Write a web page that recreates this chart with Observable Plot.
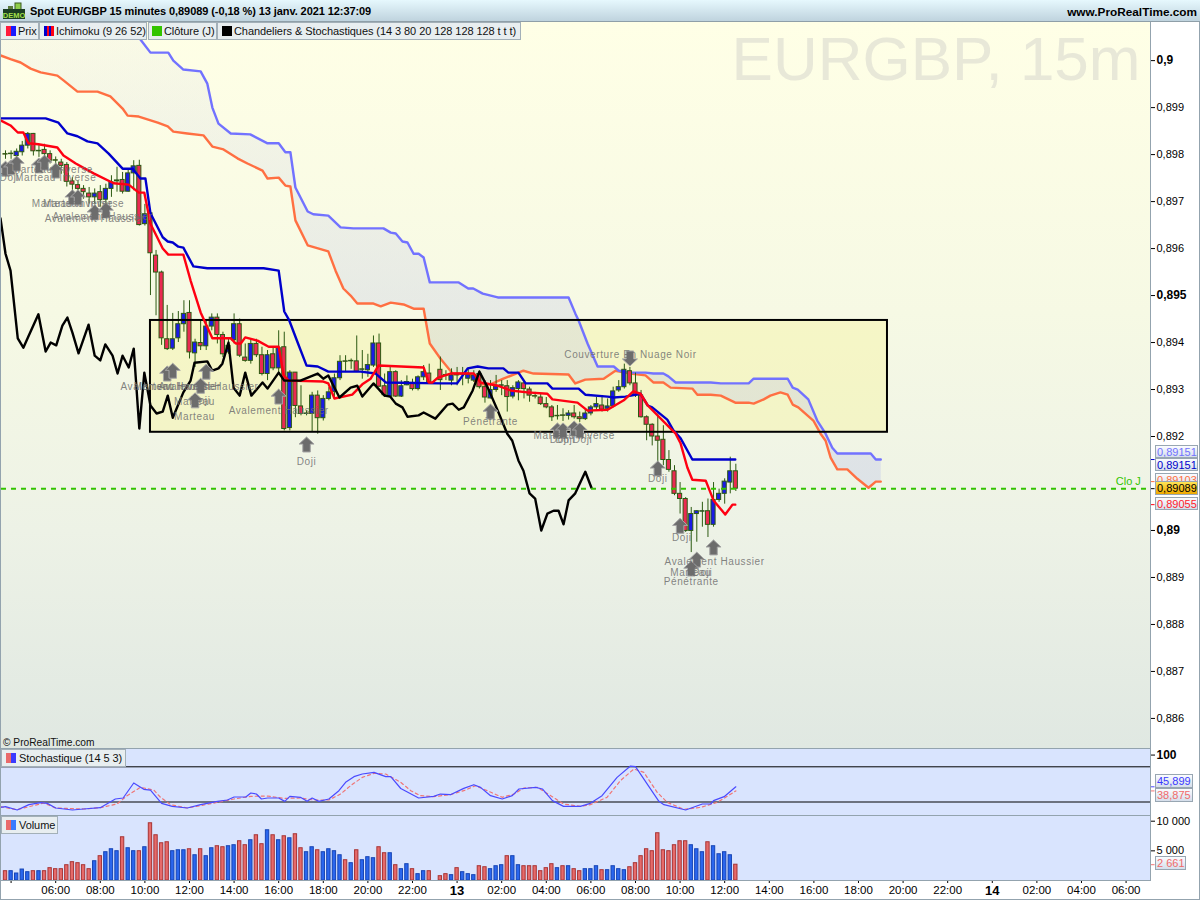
<!DOCTYPE html>
<html><head><meta charset="utf-8">
<script src="https://cdn.jsdelivr.net/npm/d3@7"></script>
<script src="https://cdn.jsdelivr.net/npm/@observablehq/plot@0.6"></script>
<style>
html,body{margin:0;padding:0;background:#fff}
#root{position:relative;width:1200px;height:900px;overflow:hidden;font-family:"Liberation Sans",Arial,sans-serif;color:#000;background:#fff}
#root>*{position:absolute}
svg{overflow:visible}
g[fill="#6e6e6e"]{letter-spacing:.6px}
.hd{left:0;top:0;width:1200px;height:21px;background:linear-gradient(#e6f8fd,#bfd3de);border-bottom:1px solid #8f9fa8;box-sizing:content-box}
.ht{font:bold 11px "Liberation Sans",Arial,sans-serif;line-height:14px;white-space:nowrap;letter-spacing:-.08px}
.leg{height:16px;background:#e8eef0;border:1px solid #a3b0b8;font-size:11px;line-height:16px;white-space:nowrap;color:#111;letter-spacing:-.07px}
.sw{position:absolute;top:3px;height:10px}
.tag{left:1155px;height:13px;width:43px;box-sizing:border-box;border:1px solid #98a6b2;background:linear-gradient(#fbfcff,#d5deeb);font-size:11px;line-height:12px;padding-left:1px;white-space:nowrap;overflow:hidden}
.edge{background:#93a3ae}
</style></head><body><div id="root"></div>
<script>
// candles, one per 15-minute slot (prices in 1/100000); slot 77 has no bar
const candleOpen=[89801,89801,89797,89805,89819,89844,89807,89810,89801,89788,89783,89778,89743,89735,89727,89717,89709,89720,89704,89727,89743,89746,89721,89760,89776,89652,89675,89585,89549,89407,89387,89409,89439,89463,89377,89399,89392,89434,89453,89416,89379,89405,89439,89368,89361,89397,89373,89333,89375,89345,89390,89218,89336,89264,89248,89248,89287,89239,89280,89295,89324,89360,89360,89360,89342,89341,89351,89398,89307,89285,89337,89285,89309,89314,89301,89326,89334,null,89342,89331,89319,89331,89332,89323,89319,89333,89305,89281,89299,89308,89307,89285,89301,89313,89300,89286,89283,89269,89262,89243,89245,89244,89249,89241,89237,89249,89262,89266,89259,89264,89298,89305,89339,89313,89287,89241,89225,89200,89193,89150,89126,89078,89067,88999,89035,89040,89041,89012,89065,89078,89102,89126];
const candleHigh=[89808,89808,89812,89828,89847,89845,89819,89822,89808,89795,89790,89783,89751,89744,89734,89730,89727,89734,89737,89755,89773,89762,89769,89787,89788,89694,89680,89596,89552,89479,89462,89466,89489,89489,89407,89446,89446,89461,89461,89422,89407,89461,89450,89397,89407,89407,89390,89383,89390,89425,89422,89340,89336,89308,89255,89294,89297,89287,89304,89333,89372,89372,89365,89414,89383,89375,89414,89418,89333,89351,89340,89319,89329,89322,89329,89351,89354,null,89369,89340,89344,89347,89347,89344,89340,89340,89319,89319,89330,89319,89319,89308,89319,89319,89305,89294,89291,89283,89266,89266,89259,89255,89266,89252,89259,89266,89283,89287,89280,89305,89319,89354,89347,89335,89298,89244,89227,89248,89223,89170,89138,89102,89070,89049,89042,89060,89067,89102,89088,89110,89156,89141];
const candleLow=[89790,89790,89787,89797,89812,89797,89794,89787,89780,89773,89758,89731,89723,89712,89705,89695,89695,89688,89695,89709,89720,89716,89720,89723,89648,89648,89500,89457,89394,89383,89383,89400,89422,89365,89347,89383,89383,89425,89397,89368,89375,89397,89368,89358,89354,89368,89329,89319,89340,89333,89212,89212,89240,89244,89244,89209,89205,89233,89276,89283,89319,89336,89343,89336,89322,89326,89347,89304,89283,89283,89283,89283,89308,89297,89297,89319,89311,null,89298,89319,89308,89308,89308,89312,89315,89301,89271,89280,89294,89287,89252,89280,89276,89280,89273,89280,89266,89259,89232,89235,89232,89235,89237,89230,89234,89244,89255,89252,89252,89261,89294,89301,89308,89283,89239,89191,89180,89138,89138,89124,89074,89035,88996,88953,88975,89007,88985,89007,89060,89056,89078,89083];
const candleClose=[89800,89802,89806,89819,89844,89807,89808,89801,89787,89787,89776,89742,89736,89727,89720,89709,89717,89703,89727,89741,89745,89721,89760,89775,89650,89673,89590,89549,89409,89386,89407,89439,89461,89379,89400,89392,89434,89453,89416,89375,89393,89439,89372,89361,89397,89373,89333,89373,89345,89388,89216,89336,89265,89248,89249,89287,89239,89280,89294,89324,89359,89359,89361,89338,89343,89352,89398,89306,89288,89337,89285,89307,89316,89301,89326,89337,89315,null,89320,89330,89330,89330,89333,89332,89330,89305,89283,89299,89306,89309,89284,89303,89315,89301,89287,89285,89269,89262,89241,89244,89244,89249,89241,89237,89249,89262,89269,89257,89264,89296,89305,89342,89313,89287,89241,89225,89200,89191,89150,89129,89078,89067,88999,89035,89041,89041,89012,89065,89078,89104,89126,89089];
const volumes=[1570,1570,1180,1850,1400,1570,1570,1570,2080,1910,1910,2580,3090,2920,2580,1910,3250,4100,4770,5270,4940,7290,5440,4940,4940,5610,9650,7630,6280,6450,4940,5100,5100,5270,4260,5270,4100,5440,5780,5610,5780,5950,6620,5950,6790,7630,6120,8470,7630,6790,7460,7120,7800,5440,4770,5610,5100,4770,5270,4940,4260,3420,2920,5100,3420,3930,3760,5610,4600,4600,2580,1910,2750,1910,1070,1570,1570,null,730,1070,900,2080,1400,1070,900,2410,2240,1910,2410,2580,4100,4100,2580,2410,2410,2410,1570,2080,2750,2080,2410,2410,1910,1570,1910,1910,2410,1740,1740,2410,1910,1740,2240,2920,4100,5270,4940,7970,5100,4940,5950,6620,6620,5950,5270,4770,6450,5780,4430,4770,4260,2661];

// Ichimoku lines: x is the 15-minute slot, y the price in 1/100000
const senkouASlot=[-0.9,0.9,2.7,4.5,6.3,9.3,10.4,12.9,16.5,18.8,21,21.9,23.9,27.3,29.1,30.1,32.6,35.5,37.1,39.1,41.6,43.4,46.1,47,49,50.2,51.1,52,54.2,57.9,59.2,60.6,61.9,63.1,66,67.3,69.1,71.4,73.2,75,76.1,78,80.2,83,84.8,87,89.3,92.9,94.7,101,102.2,104,107.3,109.4,112.1,114.8,116.2,118,119.3,123.2,124.1,126.5,128.3,130.9,133.3,134.2,136,137.2,139,140.3,141.2,142.2,144.9,146.2,147.1,148,149.2,151,152.8,154.8,156.1,157];
const senkouAPrice=[90011,90003,89996,89983,89975,89968,89958,89934,89934,89924,89898,89883,89881,89868,89860,89849,89845,89841,89817,89811,89792,89781,89766,89749,89751,89734,89732,89660,89607,89594,89553,89515,89500,89483,89483,89477,89485,89481,89472,89472,89398,89366,89334,89334,89311,89311,89323,89340,89334,89332,89313,89321,89323,89340,89334,89330,89315,89315,89304,89302,89289,89289,89287,89272,89272,89270,89279,89287,89294,89289,89268,89262,89234,89206,89191,89155,89130,89130,89110,89091,89104,89104];
const senkouBSlot=[-0.9,9.9,18.8,22.4,24.2,26,29.2,30.1,31.9,35,36.2,37.1,38.2,40.4,43.9,47,49,50.2,51.1,52,54.2,55.2,57.9,60.1,62.4,67.8,69.1,70,71.2,72.1,73.2,74.1,75,76.1,81.3,83,83.9,85.6,88.3,101,102.2,102.8,104.4,106.2,109.1,110,112.1,114.8,116.2,118,118.9,120.2,126.5,128.3,133.3,134.2,140.3,141.2,142.1,144,145.6,147.1,148.3,149.2,155.2,156.1,157];
const senkouBPrice=[90298,90213,90128,90075,90045,90017,90017,90000,89981,89977,89951,89900,89866,89845,89843,89824,89824,89805,89805,89730,89679,89673,89670,89645,89643,89643,89634,89632,89615,89613,89589,89589,89581,89528,89528,89515,89515,89504,89496,89496,89462,89447,89398,89349,89349,89340,89336,89336,89334,89334,89328,89315,89315,89313,89313,89323,89323,89304,89300,89279,89234,89206,89176,89164,89164,89151,89151];
const kijunSlot=[-0.9,7.2,9.5,11.1,12.9,14.7,16.5,18.5,21,22.8,24.2,25.1,26,28.2,29.1,30,31,31.9,33.7,36.2,46.3,49,50,50.9,52.4,54,56,57.9,63.7,66.4,68.2,78,81,82.9,84.7,86.6,89.3,90.2,92,93.3,97.2,98.1,102.8,104,108,109.1,111.2,113.9,115.2,116,118.7,119.8,121.1,123.2,130.9];
const kijunPrice=[89877,89877,89868,89845,89839,89828,89824,89802,89770,89770,89749,89749,89675,89624,89615,89613,89604,89602,89562,89558,89558,89553,89466,89447,89400,89351,89349,89338,89338,89334,89315,89313,89313,89345,89349,89345,89345,89336,89336,89313,89313,89302,89302,89289,89285,89283,89285,89291,89266,89262,89236,89213,89196,89151,89151];
const tenkanSlot=[-0.9,0.9,2.2,3.2,4.1,5.9,9.3,10.4,12.6,15.8,19.4,22.1,23.9,24.9,26,28.2,29.2,31.9,33.2,35,37.1,40.4,41.3,42.2,43,45.2,47.2,49,49.9,50.8,57,57.9,59,62.2,64,65.5,66.9,75,75.9,76.6,77.5,79.8,84,85.2,88.4,90.6,93.6,97.2,98.1,102.6,104.4,108,110.9,112.6,113.9,115.2,120.2,121.1,122.3,123.2,125.6,127,129.1,130.4,130.9];
const tenkanPrice=[89873,89862,89847,89847,89824,89822,89815,89798,89781,89760,89739,89736,89719,89719,89653,89600,89587,89587,89532,89464,89409,89409,89398,89398,89411,89404,89391,89391,89330,89319,89317,89313,89281,89289,89311,89323,89351,89347,89315,89315,89325,89334,89334,89315,89308,89298,89294,89291,89279,89272,89255,89257,89277,89296,89291,89266,89206,89185,89134,89108,89106,89064,89034,89055,89055];
const chikouSlot=[-0.9,0,0.9,2.2,3.2,4.1,5.9,7.2,8.1,9.1,10.2,11.1,12,13.1,14.9,16,17,17.9,19.2,20.1,21,22.1,23,24,24.9,26,27.1,28.2,29.1,30,31.9,33.2,33.9,36.2,37.1,38.2,38.9,40,40.9,42,43,44.1,46.1,47,49,50,52.9,56,57,57.9,59.9,61.9,63.1,64,66,68,69,70,71.2,72.1,74.1,75,77.1,79.3,80.2,81.3,82.2,83.8,85,86.5,88.3,90,90.9,92,92.9,94,95,96.1,97.2,98.3,99.2,100.1,101,102.2,104,105.1];
const chikouPrice=[89664,89589,89553,89409,89389,89413,89460,89381,89400,89394,89436,89453,89421,89377,89438,89372,89362,89396,89372,89334,89372,89347,89387,89217,89336,89266,89249,89253,89287,89240,89294,89319,89357,89360,89340,89345,89355,89400,89304,89287,89336,89287,89315,89302,89336,89319,89319,89334,89323,89330,89283,89304,89308,89285,89313,89287,89285,89270,89262,89242,89245,89251,89238,89268,89270,89257,89262,89298,89338,89304,89255,89206,89191,89149,89127,89079,89068,89000,89036,89042,89042,89013,89064,89079,89125,89091];

// stochastic lines
const stochKSlot=[-0.9,0,2.1,4.2,6.3,7.5,9,12,14,17,19.7,21.1,23,24.8,26,28,29.9,32.6,35,38,39.8,41,43.1,44,45,45.9,47,49,50.1,51,52.9,54.1,55,56.2,58,59.8,61,62.5,64,66.1,68.2,69.1,70.9,74.1,76.8,78,79.8,82.2,84,85.2,87,89.1,90.9,92.1,95.1,96.3,98.1,100.1,103.1,104.9,107,109.7,112.1,113,117.2,118.1,122,125,126.5,127,128.9,131];
const stochKValue=[10.9,12,6.4,15.5,18.9,17.7,9.8,6.4,8.1,10.3,25.1,26.8,52.4,41.6,40.4,17.7,12.6,9.8,15.5,21.1,23.4,28.5,28.5,35.3,33.6,25.1,26.8,26.8,21.1,29.7,28,21.1,26.8,21.1,25.1,39.3,53.5,63.2,67.7,70.6,63.2,63.2,43,26.8,29.7,33.6,32.5,43.3,49.5,45,30.8,25.1,30.8,42.2,45,42.2,22.3,12.6,12.6,17.7,30.8,62,81.3,80.2,21.1,15.5,6.4,16.6,16.6,22.3,29.1,45.899];
const stochDSlot=[-0.9,2.1,4.2,6.9,9,14,17,20,21.8,24.2,26.6,27.8,29.6,32.6,35,38,41,44,47,49.9,52.9,55.3,58,60.1,61.9,64,66.1,68.2,70.9,72.7,74.4,76.8,79.8,82.2,84.3,86.4,89.1,91.2,93,95.4,97.8,100.1,103.1,104.9,107.9,110.3,112.7,114.5,116.9,118.7,121.7,124.7,127.7,131];
const stochDValue=[12,6.9,12,18.3,9.8,8.1,10.3,16.6,30.8,45,40.4,28,15.5,9.8,13.8,19.4,25.1,29.7,30.2,26.2,26.8,23.4,23.4,33.6,47.8,62,68.8,67.7,53.5,39.3,30.8,29.1,32.5,39.3,47.8,39.3,28,33.6,43.9,45,30.8,16.6,12.6,15.5,28,56.4,76.2,70.6,36.5,19.4,7.5,10.9,19.4,38.875];

// candlestick pattern arrows and their captions
const arrowUpSlot=[0,1,2,6,7,9,12,13,16,18,29,30,36,35,34,49,54,87,99,100,102,103,117,121,124,123,127];
const arrowUpPrice=[89770,89773,89781,89777,89783,89766,89709,89709,89677,89681,89334,89340,89338,89308,89277,89285,89183,89253,89213,89213,89217,89213,89132,89010,88938,88919,88964];
const arrowDownSlot=[112];
const arrowDownPrice=[89366];
const captionText=["Marteau Inverse","Doji","Marteau Inverse","Marteau Inverse","Marteau Inverse","Avalement Haussier","Avalement Haussier","Avalement Haussier","Marteau Inverse","Avalement Haussier","Marteau","Doji","Marteau","Avalement Haussier","Doji","Couverture En Nuage Noir","Pénétrante","Marteau Inverse","Doji","Doji","Doji","Doji","Doji","Avalement Haussier","Marteau","Doji","Pénétrante"];
const captionSlot=[8.4,0.7,9,12,14,17.4,16,29.6,30.3,36.4,33.9,35,33.9,49,54,112.1,87,102,99.4,100.4,103.5,117,121.3,127.2,122.9,125,123];
const captionPrice=[89768,89751,89751,89696,89696,89668,89664,89306,89306,89306,89274,89276,89242,89255,89147,89374,89232,89202,89193,89193,89193,89110,88985,88934,88910,88910,88891];

// rectangle drawn on the chart
const boxSlots=[26,158.2];
const boxPrices=[89209,89447];

// levels and axes
const closeLevel=89089;
const priceTicks=[90000,89900,89800,89700,89600,89500,89400,89300,89200,89000,88900,88800,88700,88600];
const priceTickLabels=["0,9","0,899","0,898","0,897","0,896","0,895","0,894","0,893","0,892","0,89","0,889","0,888","0,887","0,886"];
const boldPriceTicks=[90000,89500,89000];
const timeTickSlots=[1,9,17,25,33,41,49,57,65,73,81,89,97,105,113,121,129,137,145,153,161,169,177,185,193,201];
const timeTickLabels=["","06:00","08:00","10:00","12:00","14:00","16:00","18:00","20:00","22:00","13","02:00","04:00","06:00","08:00","10:00","12:00","14:00","16:00","18:00","20:00","22:00","14","02:00","04:00","06:00"];
const boldTimeLabels=["13","14"];
const volumeTicks=[10000,5000];
const volumeTickLabels=["10 000","5 000"];

const RED="#ea2a52",BLUE="#1a1ae6",WICK="#2c5a12";
const xScale={domain:[-0.72,205.38],axis:null};
const common={width:1200,marginLeft:1,marginRight:50,marginTop:0,style:{background:"transparent",fontFamily:'"Liberation Sans",Arial,sans-serif',fontSize:"11px",color:"#000",overflow:"visible"}};
const px=v=>v==null?null:v/1e5;
const series=(s,p)=>s.map((slot,i)=>({slot,price:p[i]/1e5}));

const candles=candleOpen.map((o,i)=>({i,o:px(o),h:px(candleHigh[i]),l:px(candleLow[i]),c:px(candleClose[i])})).filter(d=>d.o!=null);
const cloud=[...series(senkouASlot,senkouAPrice),...series(senkouBSlot,senkouBPrice).reverse()];
const lineOf=(data,stroke,w=2.4)=>Plot.line(data,{x:"slot",y:"price",stroke,strokeWidth:w,clip:"frame",strokeLinejoin:"round"});
const arrowSym={draw(ctx,size){const r=Math.sqrt(size/Math.PI);
  ctx.moveTo(0,-r);ctx.lineTo(r,-r*0.05);ctx.lineTo(r*0.5,-r*0.05);ctx.lineTo(r*0.5,r);ctx.lineTo(-r*0.5,r);ctx.lineTo(-r*0.5,-r*0.05);ctx.lineTo(-r,-r*0.05);ctx.closePath();}};
const ARROW={symbol:arrowSym,r:7.5,fill:"#6c6c6c",stroke:"#a5a5a5",strokeWidth:1};
const cloudGradient=()=>{const s=d3.create("svg:defs");const g=s.append("linearGradient").attr("id","cloudGrad").attr("gradientUnits","userSpaceOnUse").attr("x1",0).attr("x2",0).attr("y1",20).attr("y2",470);
  g.append("stop").attr("offset",0).attr("stop-color","#c8cce8").attr("stop-opacity",.1);
  g.append("stop").attr("offset",.55).attr("stop-color","#c8cce8").attr("stop-opacity",.32);
  g.append("stop").attr("offset",1).attr("stop-color","#c4cae8").attr("stop-opacity",.42);return s.node();};

const mainPlot=Plot.plot({...common,height:725,marginBottom:0,
  x:xScale,y:{domain:[88536/1e5,90079/1e5],axis:null},
  marks:[
    cloudGradient,
    Plot.text(["EURGBP, 15m"],{frameAnchor:"top-right",dx:-10,dy:12,fontSize:62,fill:"#e8e8d8",fontFamily:'"Liberation Sans",Arial,sans-serif'}),
    Plot.rect([0],{x1:boxSlots[0],x2:boxSlots[1],y1:boxPrices[0]/1e5,y2:boxPrices[1]/1e5,fill:"#f5f29e",fillOpacity:.42}),
    Plot.line(cloud,{x:"slot",y:"price",fill:"url(#cloudGrad)",stroke:"none",clip:"frame"}),
    lineOf(series(senkouASlot,senkouAPrice),"#ff6f42"),
    lineOf(series(senkouBSlot,senkouBPrice),"#7272ff"),
    Plot.ruleX(candles,{x:"i",y1:"l",y2:"h",stroke:WICK,strokeWidth:1}),
    Plot.rect(candles,{x1:d=>d.i-.37,x2:d=>d.i+.37,y1:"o",y2:"c",fill:d=>d.c<d.o?RED:BLUE,stroke:WICK,strokeWidth:1}),
    Plot.rect([0],{x1:boxSlots[0],x2:boxSlots[1],y1:boxPrices[0]/1e5,y2:boxPrices[1]/1e5,fill:"none",stroke:"#000",strokeWidth:2}),
    lineOf(series(kijunSlot,kijunPrice),"#0000cc"),
    lineOf(series(tenkanSlot,tenkanPrice),"#ff0012"),
    lineOf(series(chikouSlot,chikouPrice),"#000"),
    Plot.ruleY([closeLevel/1e5],{stroke:"#33c400",strokeWidth:2,strokeDasharray:"5,5",x1:-0.72,x2:205.38}),
    Plot.dot(arrowUpSlot.map((s,i)=>({s,p:arrowUpPrice[i]/1e5})),{x:"s",y:"p",...ARROW}),
    Plot.dot(arrowDownSlot.map((s,i)=>({s,p:arrowDownPrice[i]/1e5})),{x:"s",y:"p",rotate:180,...ARROW}),
    Plot.text(captionText.map((t,i)=>({t,s:captionSlot[i],p:captionPrice[i]/1e5})),{x:"s",y:"p",text:"t",fill:"#6e6e6e",fillOpacity:.85,fontSize:10}),
    Plot.text(["Clo J"],{x:201.4,y:closeLevel/1e5,dy:-7,text:d=>d,fill:"#33c400",fontSize:11}),
    Plot.ruleY([89151],{y:d=>d/1e5,x1:205.45,x2:206.2,stroke:"#0000cc"}),
    Plot.ruleY([89104],{y:d=>d/1e5,x1:205.45,x2:206.2,stroke:"#ff6f42"}),
    Plot.ruleY([89089],{y:d=>d/1e5,x1:205.45,x2:206.2,stroke:"#000"}),
    Plot.ruleY([89055],{y:d=>d/1e5,x1:205.45,x2:206.2,stroke:"#ff0012"}),
    Plot.axisY(priceTicks.filter(t=>!boldPriceTicks.includes(t)).map(t=>t/1e5),{anchor:"right",label:null,tickSize:4,tickPadding:2,fontSize:11,tickFormat:d=>priceTickLabels[priceTicks.indexOf(Math.round(d*1e5))]}),
    Plot.axisY(boldPriceTicks.map(t=>t/1e5),{anchor:"right",label:null,tickSize:4,tickPadding:2,fontWeight:"bold",fontSize:12,tickFormat:d=>priceTickLabels[priceTicks.indexOf(Math.round(d*1e5))]})
  ]});

const stochPlot=Plot.plot({...common,height:67,marginBottom:0,
  x:xScale,y:{domain:[-3,111.2],axis:null},
  marks:[
    Plot.ruleY([80,20],{stroke:"#000",strokeWidth:1,x1:-0.72,x2:205.38}),
    Plot.line(stochDSlot.map((slot,i)=>({slot,v:stochDValue[i]})),{x:"slot",y:"v",stroke:"#f07575",strokeWidth:1.2,strokeDasharray:"3,3"}),
    Plot.line(stochKSlot.map((slot,i)=>({slot,v:stochKValue[i]})),{x:"slot",y:"v",stroke:"#4a4aff",strokeWidth:1.2}),
    Plot.ruleY([45.899],{x1:205.45,x2:206.2,stroke:"#4a4aff"}),
    Plot.ruleY([38.875],{x1:205.45,x2:206.2,stroke:"#f07575"}),
    Plot.axisY([100],{anchor:"right",label:null,tickSize:4,tickPadding:2,fontWeight:"bold",fontSize:12,tickFormat:d=>String(d)})
  ]});

const volumeRows=candles.map(d=>({i:d.i,v:volumes[d.i],up:!(d.c<d.o)}));
const volPlot=Plot.plot({...common,height:85,marginBottom:20,
  x:{...xScale},y:{domain:[0,10960],axis:null},
  marks:[
    Plot.rectY(volumeRows,{x1:d=>d.i-.3,x2:d=>d.i+.3,y1:0,y2:"v",fill:d=>d.up?"#2a66ee":"#e66a6a",stroke:d=>d.up?"#1644b4":"#a83434",strokeWidth:1}),
    Plot.ruleY([2661],{x1:205.45,x2:206.2,stroke:"#f07575"}),
    Plot.axisY(volumeTicks,{anchor:"right",label:null,tickSize:4,tickPadding:2,fontSize:11,tickFormat:d=>volumeTickLabels[volumeTicks.indexOf(d)]}),
    Plot.axisX(timeTickSlots.filter((s,i)=>!boldTimeLabels.includes(timeTickLabels[i])),{anchor:"bottom",label:null,tickSize:3,tickPadding:2,fontSize:11.5,tickFormat:d=>timeTickLabels[timeTickSlots.indexOf(d)]}),
    Plot.axisX(timeTickSlots.filter((s,i)=>boldTimeLabels.includes(timeTickLabels[i])),{anchor:"bottom",label:null,tickSize:3,tickPadding:2,fontSize:13,fontWeight:"bold",tickFormat:d=>timeTickLabels[timeTickSlots.indexOf(d)]})
  ]});

const root=document.getElementById("root");
const el=(html)=>{const t=document.createElement("template");t.innerHTML=html.trim();const n=t.content.firstChild;root.appendChild(n);return n;};
const place=(svg,top)=>{svg.style.position="absolute";svg.style.left="0";svg.style.top=top+"px";svg.style.maxWidth="none";root.appendChild(svg);};

el('<div style="left:1px;top:22px;width:1149px;height:726px;background:linear-gradient(#ffffe6 0%,#f6f9e4 40%,#edf2e6 70%,#e0e8e2 100%)"></div>');
el('<div style="left:1px;top:749px;width:1149px;height:131px;background:#d9e4fe"></div>');
place(mainPlot,23);
place(stochPlot,748);
place(volPlot,815);
// panel separators
el('<div class="edge" style="left:0;top:748px;width:1150px;height:1px"></div>');
el('<div class="edge" style="left:0;top:815px;width:1150px;height:1px"></div>');
el('<div class="edge" style="left:0;top:880px;width:1150px;height:1px"></div>');
el('<div class="edge" style="left:1150px;top:22px;width:1px;height:859px"></div>');
el('<div class="edge" style="left:0;top:0;width:1px;height:900px"></div>');
el('<div class="edge" style="left:1199px;top:0;width:1px;height:900px"></div>');
el('<div class="edge" style="left:0;top:899px;width:1200px;height:1px"></div>');
// header
el('<div class="hd"></div>');
el('<svg style="left:3px;top:3px" width="24" height="17"><rect x="5" y="3" width="5" height="4" fill="#5a7a3a"/><rect x="12" y="0" width="6" height="7" fill="#8fce4a" stroke="#3a5a20"/><rect x="0" y="6" width="22" height="10" fill="#1c3f22"/><text x="11" y="14.5" text-anchor="middle" font-size="7.5" font-weight="bold" fill="#a4e04a" font-family="Liberation Sans">DEMO</text></svg>');
el('<div class="ht" style="left:30px;top:4px">Spot EUR/GBP 15 minutes 0,89089 (-0,18 %) 13 janv. 2021 12:37:09</div>');
el('<div class="ht" style="right:3px;top:5px;font-size:11.8px;letter-spacing:0">www.ProRealTime.com</div>');
// legends
el('<div class="leg" style="left:0;top:22px;width:37px"><span class="sw" style="left:5px;width:5px;background:#ff1a3c"></span><span class="sw" style="left:10px;width:5px;background:#1a1aff"></span><span style="margin-left:17px">Prix</span></div>');
el('<div class="leg" style="left:39px;top:22px;width:106px"><span class="sw" style="left:4px;width:10px;background:linear-gradient(90deg,#0000cc 0 25%,#ff0012 25% 50%,#0000cc 50% 75%,#ff0012 75%)"></span><span style="margin-left:16px">Ichimoku (9 26 52)</span></div>');
el('<div class="leg" style="left:148px;top:22px;width:67px"><span class="sw" style="left:3px;width:10px;background:#33c400"></span><span style="margin-left:15px">Clôture (J)</span></div>');
el('<div class="leg" style="left:217px;top:22px;width:302px"><span class="sw" style="left:4px;width:10px;background:#000"></span><span style="margin-left:16px">Chandeliers &amp; Stochastiques (14 3 80 20 128 128 128 t t t)</span></div>');
el('<div style="left:3px;top:736px;font-size:10.2px;line-height:13px;white-space:nowrap;color:#111">© ProRealTime.com</div>');
el('<div class="leg" style="left:1px;top:749px;width:123px"><span class="sw" style="left:4px;width:5px;background:#e96a6a"></span><span class="sw" style="left:9px;width:5px;background:#3a3aff"></span><span style="margin-left:17px">Stochastique (14 5 3)</span></div>');
el('<div class="leg" style="left:1px;top:816px;width:55px"><span class="sw" style="left:4px;width:5px;background:#e96a6a"></span><span class="sw" style="left:9px;width:5px;background:#3a7aff"></span><span style="margin-left:17px">Volume</span></div>');
// value tags at the right edge
const tag=(t,top,color,extra="")=>el(`<div class="tag" style="top:${top}px;color:${color};${extra}">${t}</div>`);
tag("0,89103",473,"#ff6f42");
tag("0,89151",445,"#7272ff");
tag("0,89151",458,"#0000cc");
tag("0,89089",481,"#000","height:14px;background:linear-gradient(#ffe455,#eea800);border-color:#98a6b2");
tag("0,89055",497,"#ff1a2a");
tag("45,899",774,"#3a3aff","width:38px;height:14px");
tag("38,875",788,"#f06a6a","width:38px;height:14px");
tag("2 661",856,"#f06a6a","width:31px;height:14px");
</script></body></html>
